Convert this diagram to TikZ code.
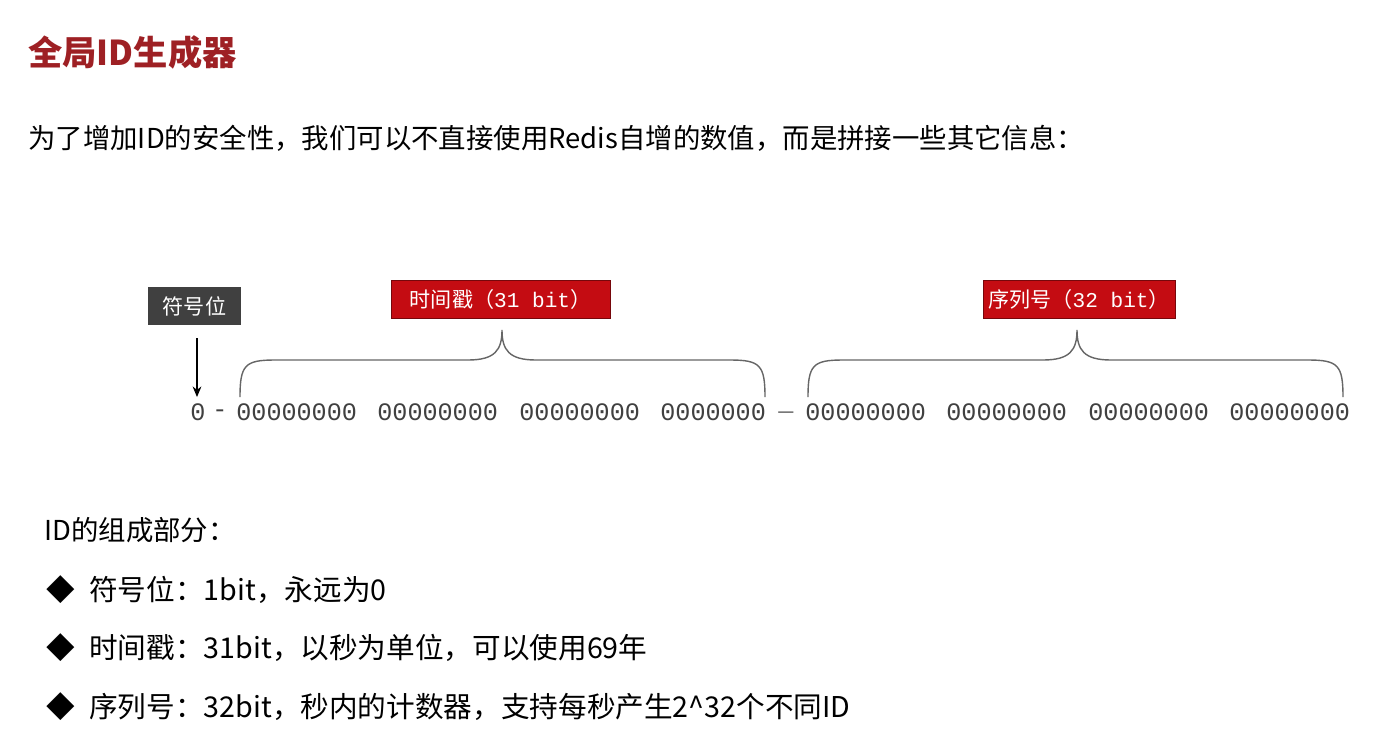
\documentclass[tikz,border=0pt]{standalone}
\usepackage{fontspec}
\setmainfont{Noto Sans CJK SC}
\newfontfamily\cjk{Noto Sans CJK SC}
\newfontfamily\bitsfont{Liberation Mono}
\usetikzlibrary{arrows.meta}
\definecolor{titlered}{RGB}{158,32,36}
\definecolor{boxred}{RGB}{196,12,18}
\definecolor{boxgray}{RGB}{64,64,64}
\tikzset{
  redbox/.style={fill=boxred, draw=boxred!60!black, text=white, font=\fontsize{12}{14}\selectfont, minimum height=38*0.02cm, inner sep=0pt},
  graybox/.style={fill=boxgray, text=white, font=\fontsize{12}{14}\selectfont, minimum height=38*0.02cm, minimum width=93*0.02cm, inner sep=0pt},
  bits/.style={anchor=west, inner sep=0pt, text=black!75, font=\bitsfont\fontsize{14.3}{16}\selectfont},
  body/.style={anchor=west, inner sep=0pt, font=\fontsize{15.6}{18}\selectfont},
  item/.style={body, font=\fontsize{16.3}{19}\selectfont},
  brace/.style={gray!80!black, line width=0.8pt}
}
\begin{document}
\begin{tikzpicture}[x=0.02cm, y=-0.02cm]
    \useasboundingbox[fill=white] (0,0) rectangle (1384,748);
    \node [anchor=west, inner sep=0pt, text=titlered, font=\bfseries\fontsize{19.5}{22}\selectfont] (title) at (28,52) {全局ID生成器};
    \node [body] (intro) at (28,138) {为了增加ID的安全性，我们可以不直接使用Redis自增的数值，而是拼接一些其它信息：};

    \node [graybox] (sign) at (194.5,306) {符号位};
    \node [redbox, minimum width=219*0.02cm] (time) at (500.5,299) {时间戳（{\bitsfont 31 bit}）};
    \node [redbox, minimum width=192*0.02cm] (seq) at (1079,299) {序列号（{\bitsfont 32 bit}）};
    \coordinate (signend) at (197,397);
    \draw [-{Stealth[length=6pt,width=5pt]}, line width=0.6pt] (197,338) -- (signend);

    % braces
    \draw [brace] (240,397) .. controls (240,365) and (245,360) .. (275,360) -- (468,360)
        .. controls (495,360) and (502,350) .. (502,330)
        .. controls (502,350) and (509,360) .. (536,360) -- (730,360)
        .. controls (760,360) and (765,365) .. (765,397);
    \draw [brace] (808,397) .. controls (808,365) and (813,360) .. (843,360) -- (1043,360)
        .. controls (1070,360) and (1077,350) .. (1077,330)
        .. controls (1077,350) and (1084,360) .. (1111,360) -- (1308,360)
        .. controls (1338,360) and (1343,365) .. (1343,397);

    % bits
    \node [bits] (b0) at (190,412) {0};
    \node [bits] (d1) at (212,414) {-};
    \node [bits] (t1) at (236,412) {00000000};
    \node [bits] (t2) at (377,412) {00000000};
    \node [bits] (t3) at (519,412) {00000000};
    \node [bits] (t4) at (660,412) {0000000};
    \node [bits] (d2) at (778,412) {\_};
    \node [bits] (s1) at (805,412) {00000000};
    \node [bits] (s2) at (946,412) {00000000};
    \node [bits] (s3) at (1088,412) {00000000};
    \node [bits] (s4) at (1229,412) {00000000};

    % parts
    \node [body] (parts) at (44,530) {ID的组成部分：};
    \node [item] (p1) at (46,590) {◆\hspace{0.5em}符号位：1bit，永远为0};
    \node [item] (p2) at (46,648) {◆\hspace{0.5em}时间戳：31bit，以秒为单位，可以使用69年};
    \node [item] (p3) at (46,707) {◆\hspace{0.5em}序列号：32bit，秒内的计数器，支持每秒产生2\^{}32个不同ID};
\end{tikzpicture}
\end{document}
